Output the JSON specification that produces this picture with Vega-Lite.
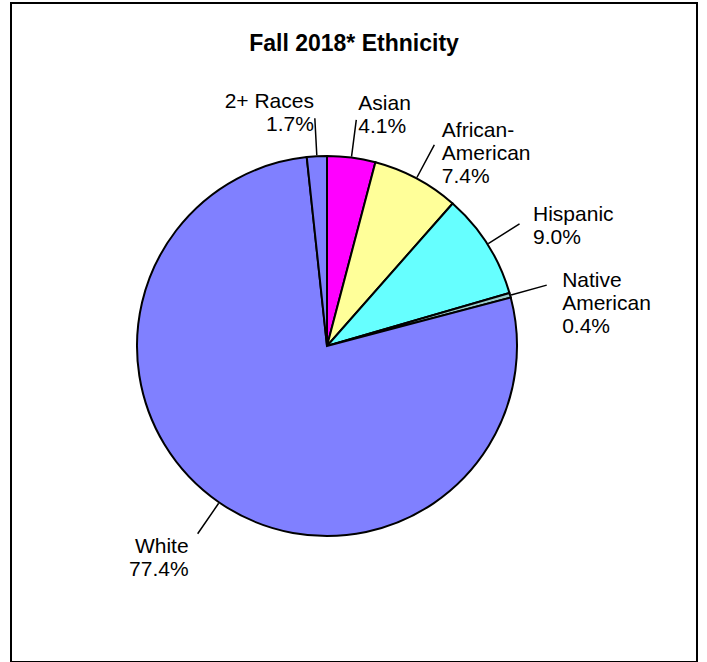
{
  "$schema": "https://vega.github.io/schema/vega-lite/v6.json",
  "autosize": "none",
  "padding": {"left": 11, "top": 3, "right": 10, "bottom": 0},
  "width": 686,
  "height": 659,
  "background": "white",
  "view": {"stroke": "black", "strokeWidth": 2, "fill": "white"},
  "title": {
    "text": "Fall 2018* Ethnicity",
    "font": "Liberation Sans",
    "fontSize": 23,
    "fontWeight": "bold",
    "color": "black",
    "anchor": "middle",
    "frame": "group",
    "baseline": "alphabetic",
    "offset": -71
  },
  "config": {
    "view": {"stroke": "black", "strokeWidth": 2}
  },
  "data": {
    "values": [
      {"ethnicity": "Asian", "pct": 4.1, "rank": 1},
      {"ethnicity": "African-American", "pct": 7.4, "rank": 2},
      {"ethnicity": "Hispanic", "pct": 9.0, "rank": 3},
      {"ethnicity": "Native American", "pct": 0.4, "rank": 4},
      {"ethnicity": "White", "pct": 77.4, "rank": 5},
      {"ethnicity": "2+ Races", "pct": 1.7, "rank": 6}
    ]
  },
  "transform": [
    {"window": [{"op": "sum", "field": "pct", "as": "cum"}], "sort": [{"field": "rank", "order": "ascending"}], "frame": [null, 0]},
    {"calculate": "datum.cum - datum.pct / 2", "as": "midPct"},
    {"calculate": "(datum.ethnicity === 'African-American' ? 'African-\\nAmerican' : datum.ethnicity === 'Native American' ? 'Native\\nAmerican' : datum.ethnicity) + '\\n' + format(datum.pct, '.1f') + '%'", "as": "label"}
  ],
  "layer": [
    {
      "mark": {"type": "arc", "radius": 190, "stroke": "black", "strokeWidth": 2, "xOffset": -27, "yOffset": 13.5},
      "encoding": {
        "theta": {"field": "pct", "type": "quantitative", "stack": true},
        "order": {"field": "rank", "type": "quantitative"},
        "color": {
          "field": "ethnicity",
          "type": "nominal",
          "scale": {
            "domain": ["Asian", "African-American", "Hispanic", "Native American", "White", "2+ Races"],
            "range": ["#FF00FF", "#FFFF99", "#66FFFF", "#99CCCC", "#8080FF", "#8080FF"]
          },
          "legend": null
        }
      }
    },
    {
      "mark": {"type": "arc", "radius": 228, "radius2": 191, "stroke": "black", "strokeWidth": 1.5, "fill": null, "xOffset": -27, "yOffset": 13.5},
      "encoding": {
        "theta": {"field": "midPct", "type": "quantitative", "stack": null},
        "theta2": {"field": "midPct"}
      }
    },
    {
      "transform": [{"filter": "datum.midPct <= 50"}],
      "mark": {"type": "text", "radius": 244, "align": "left", "baseline": "middle", "lineBreak": "\n", "lineHeight": 23, "font": "Liberation Sans", "fontSize": 21, "color": "black", "xOffset": -27, "yOffset": 13.5},
      "encoding": {
        "theta": {"field": "midPct", "type": "quantitative", "stack": null},
        "text": {"field": "label"}
      }
    },
    {
      "transform": [{"filter": "datum.midPct > 50"}],
      "mark": {"type": "text", "radius": 244, "align": "right", "baseline": "middle", "lineBreak": "\n", "lineHeight": 23, "font": "Liberation Sans", "fontSize": 21, "color": "black", "xOffset": -27, "yOffset": 13.5},
      "encoding": {
        "theta": {"field": "midPct", "type": "quantitative", "stack": null},
        "text": {"field": "label"}
      }
    }
  ]
}
